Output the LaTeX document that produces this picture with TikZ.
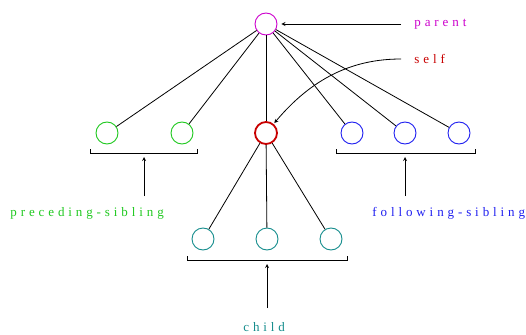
\documentclass[tikz,border=0pt]{standalone}
\usepackage{fontspec}
\newfontfamily\spacedfont{Liberation Serif}[LetterSpace=30]
\usetikzlibrary{positioning}
\definecolor{parentcol}{RGB}{204,0,204}
\definecolor{selfcol}{RGB}{200,0,0}
\definecolor{precol}{RGB}{30,200,30}
\definecolor{folcol}{RGB}{30,30,240}
\definecolor{childcol}{RGB}{20,140,140}

\begin{document}
\begin{tikzpicture}[x=1pt,y=-1pt,>=stealth,line width=0.8pt,
    main node/.style={circle,draw,minimum size=22pt,inner sep=0pt,line width=0.9pt},
    axis label/.style={font=\spacedfont\fontsize{13}{15}\selectfont,anchor=west,inner sep=1pt}]
    \useasboundingbox (0,0) rectangle (526,334);

    % the tree
    \node[main node,draw=parentcol] (parent) at (266,24) {};
    \node[main node,draw=selfcol,line width=1.8pt] (self) at (266,133) {};
    \node[main node,draw=precol] (pre1) at (107,133) {};
    \node[main node,draw=precol] (pre2) at (182,133) {};
    \node[main node,draw=folcol] (fol1) at (352,133) {};
    \node[main node,draw=folcol] (fol2) at (405,133) {};
    \node[main node,draw=folcol] (fol3) at (459,133) {};
    \node[main node,draw=childcol] (ch1) at (203,239) {};
    \node[main node,draw=childcol] (ch2) at (267,239) {};
    \node[main node,draw=childcol] (ch3) at (331,239) {};

    \path
        (parent) edge (pre1)
        (parent) edge (pre2)
        (parent) edge (self)
        (parent) edge (fol1)
        (parent) edge (fol2)
        (parent) edge (fol3)
        (self) edge (ch1)
        (self) edge (ch2)
        (self) edge (ch3)
        ;

    % brackets
    \draw (90,149) -- (90,153) -- (197,153) -- (197,149);
    \draw (336,149) -- (336,153) -- (475,153) -- (475,149);
    \draw (187,256) -- (187,260) -- (347,260) -- (347,256);

    % labels
    \node[axis label,text=parentcol] (parenttext) at (413,24) {parent};
    \node[axis label,text=selfcol] (selftext) at (413,59) {self};
    \node[axis label,text=precol] (pretext) at (9,213) {preceding-sibling};
    \node[axis label,text=folcol] (foltext) at (371,213) {following-sibling};
    \node[axis label,text=childcol] (childtext) at (242,327) {child};

    \coordinate (prefoot) at (144,196);
    \coordinate (prebrace) at (144,157);
    \coordinate (folfoot) at (405,196);
    \coordinate (folbrace) at (405,157);
    \coordinate (childfoot) at (267,308);
    \coordinate (childbrace) at (267,264);

    % arrows
    \draw[->,shorten <=12pt,shorten >=4pt] (parenttext.west) -- (parent);
    \draw[->,shorten <=12pt,shorten >=1pt] (selftext.west) to[out=180,in=50] (self);
    \draw[->] (prefoot) -- (prebrace);
    \draw[->] (folfoot) -- (folbrace);
    \draw[->] (childfoot) -- (childbrace);
\end{tikzpicture}
\end{document}
